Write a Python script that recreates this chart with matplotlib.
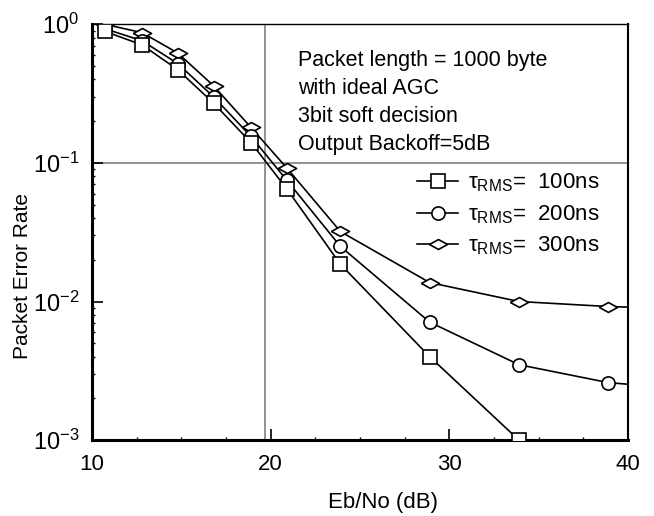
import matplotlib
matplotlib.use("Agg")
import matplotlib.pyplot as plt
from matplotlib.ticker import FixedLocator, NullFormatter, LogLocator

plt.rcParams['font.family'] = ['Liberation Sans', 'DejaVu Sans']
plt.rcParams['mathtext.fontset'] = 'custom'
plt.rcParams['mathtext.rm'] = 'Liberation Sans'
plt.rcParams['mathtext.it'] = 'Liberation Sans:italic'
plt.rcParams['mathtext.sf'] = 'Liberation Sans'

# Data (Eb/No in dB, packet error rate)
ebno = [10.7, 12.8, 14.8, 16.8, 18.9, 20.9, 23.9, 28.9, 33.9, 38.9, 43.9]
per_100 = [0.89, 0.71, 0.47, 0.27, 0.14, 0.065, 0.0186, 0.0040, 0.0010]
per_200 = [0.93, 0.76, 0.52, 0.30, 0.155, 0.075, 0.025, 0.0071, 0.0035, 0.0026, 0.0023]
per_300 = [1.0, 0.87, 0.62, 0.36, 0.18, 0.092, 0.032, 0.0137, 0.0100, 0.0092, 0.0088]
labels = ['τ$_{\\mathrm{RMS}}$=  100ns', 'τ$_{\\mathrm{RMS}}$=  200ns', 'τ$_{\\mathrm{RMS}}$=  300ns']
note = "Packet length = 1000 byte\nwith ideal AGC\n3bit soft decision\nOutput Backoff=5dB"
xticks = [10, 20, 30, 40]
yticks = [1e-3, 1e-2, 1e-1, 1e0]
yticklabels = [r'$10^{-3}$', r'$10^{-2}$', r'$10^{-1}$', r'$10^{0}$']

fig = plt.figure(figsize=(6.54, 5.16), dpi=100)
ax = fig.add_axes([0.1407, 0.147, 0.8195, 0.806])

ax.axvline(19.7, color='#808080', lw=1.2, zorder=1)
ax.axhline(0.1, color='#808080', lw=1.2, zorder=1)

ax.plot(ebno[:len(per_300)], per_300, color='black', lw=1.2, marker=[(-1, 0), (0, 0.55), (1, 0), (0, -0.55), (-1, 0)],
        ms=13, mfc='white', mec='black', mew=1.2, label=labels[2], zorder=3)
ax.plot(ebno[:len(per_200)], per_200, color='black', lw=1.2, marker='o',
        ms=9.5, mfc='white', mec='black', mew=1.2, label=labels[1], zorder=4)
ax.plot(ebno[:len(per_100)], per_100, color='black', lw=1.2, marker='s',
        ms=10.5, mfc='white', mec='black', mew=1.2, label=labels[0], zorder=5)

ax.set_yscale('log')
ax.set_xlim(10, 40)
ax.set_ylim(1e-3, 1.0)

ax.xaxis.set_major_locator(FixedLocator(xticks))
ax.set_xticklabels([str(t) for t in xticks])
ax.xaxis.set_minor_locator(FixedLocator([12.5, 15, 17.5, 22.5, 25, 27.5, 32.5, 35, 37.5]))
ax.yaxis.set_major_locator(FixedLocator(yticks))
ax.set_yticklabels(yticklabels)
ax.yaxis.set_minor_locator(LogLocator(base=10, subs=range(2, 10)))
ax.yaxis.set_minor_formatter(NullFormatter())

ax.tick_params(axis='both', which='major', direction='in', length=8, width=1.2, labelsize=16)
ax.tick_params(axis='x', which='major', pad=10)
ax.tick_params(axis='y', which='major', pad=9, labelsize=17)
ax.tick_params(axis='both', which='minor', direction='in', length=2.5, width=1)
ax.tick_params(top=False, right=False, which='both')

ax.spines['left'].set_linewidth(2.2)
ax.spines['bottom'].set_linewidth(2.2)
ax.spines['top'].set_linewidth(1.0)
ax.spines['right'].set_linewidth(1.5)

ax.set_xlabel('Eb/No (dB)', fontsize=16)
ax.set_ylabel('Packet Error Rate', fontsize=15)
ax.xaxis.set_label_coords(0.543, -0.125)
ax.yaxis.set_label_coords(-0.112, 0.394)

ax.text(0.384, 0.937, note, transform=ax.transAxes, ha='left', va='top',
        fontsize=15.5, linespacing=1.42)

handles, labs = ax.get_legend_handles_labels()
order = [2, 1, 0]
leg = ax.legend([handles[i] for i in order], [labs[i] for i in order],
                loc='upper left', bbox_to_anchor=(0.607, 0.645), frameon=False,
                fontsize=16, handlelength=1.85, handletextpad=0.45, labelspacing=0.4,
                borderaxespad=0, borderpad=0)

fig.savefig('out.png', dpi=100)
